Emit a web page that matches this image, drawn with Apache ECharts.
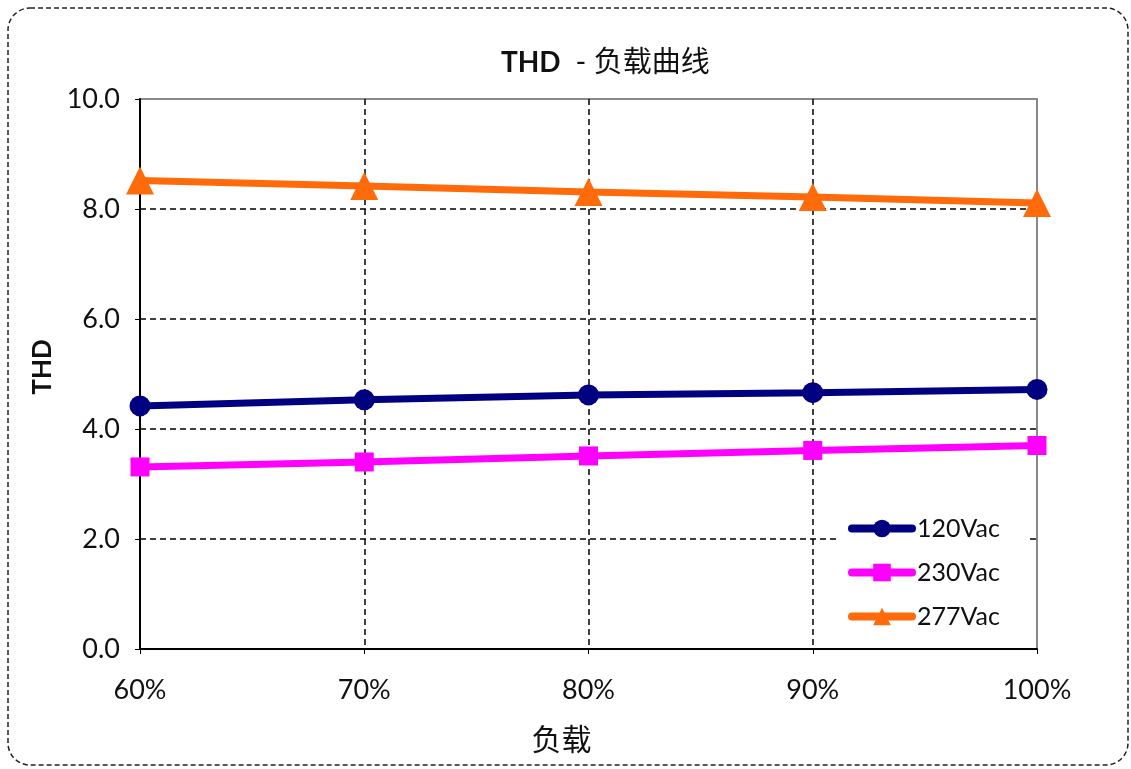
<!DOCTYPE html>
<html><head><meta charset="utf-8">
<script src="https://cdn.jsdelivr.net/npm/echarts@6/dist/echarts.min.js"></script>
<style>html,body{margin:0;padding:0;background:#fff}#c{width:1131px;height:769px}</style>
</head><body><div id="c"></div>
<script>
const categories = ['60%','70%','80%','90%','100%'];
const yTicks = [0,2,4,6,8,10];
const s120 = [4.42, 4.53, 4.62, 4.66, 4.72];
const s230 = [3.31, 3.40, 3.51, 3.61, 3.70];
const s277 = [8.52, 8.42, 8.31, 8.22, 8.11];
const seriesNames = ['120Vac','230Vac','277Vac'];

const font = 'Lato, "Noto Sans CJK SC", sans-serif';
const chart = echarts.init(document.getElementById('c'));
function mk(name, data, color, symbol, size){
  return {name, type:'line', data, symbol, symbolSize:size, showSymbol:true,
    lineStyle:{color, width:7}, itemStyle:{color}, z:5};
}
chart.setOption({
  animation:false,
  textStyle:{fontFamily:font},
  title:{text:'{b|THD}  - 负载曲线', left:496, top:43,
    textStyle:{fontSize:29, fontWeight:'normal', color:'#111', fontFamily:font,
      rich:{b:{fontSize:28, fontWeight:'bold', color:'#111', fontFamily:font}}}},
  grid:{left:140, right:94, top:99, bottom:120, show:true, borderColor:'#888', borderWidth:2,
    backgroundColor:'transparent', outerBoundsMode:'none', containLabel:false},
  xAxis:{type:'category', data:categories, boundaryGap:false,
    name:'负载', nameLocation:'middle', nameGap:76,
    nameTextStyle:{fontSize:30, color:'#111', fontFamily:font, padding:[0,54,0,0]},
    axisLine:{lineStyle:{color:'#000', width:2}},
    axisTick:{show:true, length:5, lineStyle:{color:'#000'}},
    axisLabel:{fontSize:27, color:'#111', margin:28},
    splitLine:{show:true, lineStyle:{type:[6,4], width:1.5, color:['transparent','#000','#000','#000','transparent']}}},
  yAxis:{type:'value', min:0, max:10, interval:2,
    name:'THD', nameLocation:'middle', nameGap:76,
    nameTextStyle:{fontSize:26, fontWeight:'bold', color:'#111', fontFamily:font, padding:[0,0,0,14]},
    axisLine:{show:true, lineStyle:{color:'#000', width:2}},
    axisTick:{show:true, length:5, lineStyle:{color:'#000'}},
    axisLabel:{fontSize:27, color:'#111', margin:20, formatter:v=>v.toFixed(1)},
    splitLine:{show:true, lineStyle:{type:[6,4], width:1.5, color:['transparent','#000','#000','#000','#000','transparent']}}},
  legend:{orient:'vertical', left:838, top:510, itemWidth:60, itemHeight:22, itemGap:19,
    backgroundColor:'#fff', padding:[6,26,8,10],
    lineStyle:{width:8, cap:'round'},
    textStyle:{fontSize:25, color:'#111', fontFamily:font},
    data:seriesNames},
  series:[
    mk(seriesNames[0], s120, '#000080', 'circle', 21),
    mk(seriesNames[1], s230, '#FF00FF', 'rect', 19),
    mk(seriesNames[2], s277, '#FF6A0A', 'triangle', 28)
  ],
  graphic:[{type:'rect', shape:{x:8, y:8, width:1120, height:757, r:22},
    style:{fill:'none', stroke:'#222', lineWidth:1.5, lineDash:[5,3]}, silent:true, z:-1}]
});
</script></body></html>
